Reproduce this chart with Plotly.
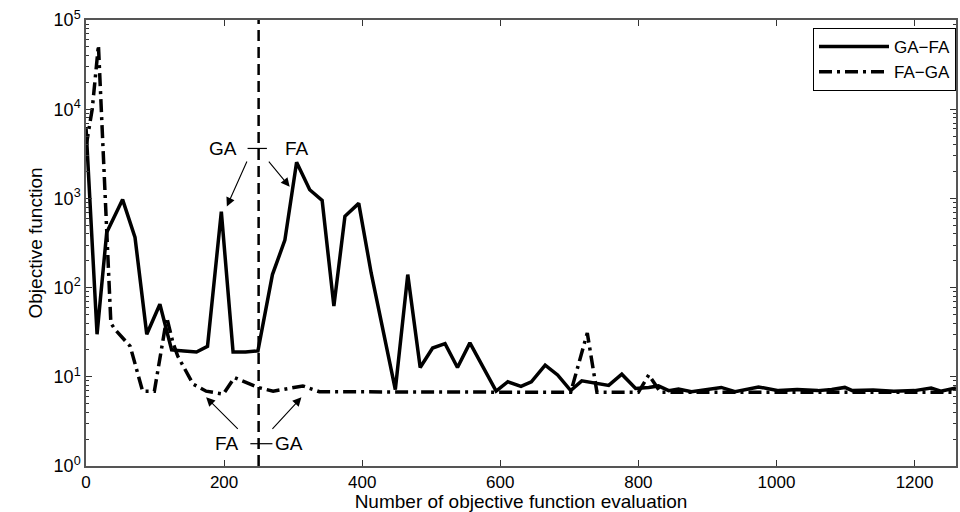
import plotly.graph_objects as go

# ---- data ----
ga_fa_x = [0, 16, 30, 53, 71, 88, 107, 124, 142, 160, 176, 196, 213, 231, 249, 270, 288, 305,
           324, 342, 359, 375, 395, 413, 448, 466, 484, 502, 520, 538, 556, 594, 611, 630, 645,
           665, 683, 702, 718, 738, 757, 776, 796, 815, 829, 844, 858, 877, 901, 920, 940, 959,
           974, 1003, 1030, 1060, 1080, 1099, 1110, 1140, 1170, 1200, 1224, 1238, 1260]
ga_fa_y = [6300, 30, 415, 970, 365, 30, 65, 20, 19.5, 19, 22, 710, 19, 19, 19.5, 140, 340, 2550,
           1250, 950, 62, 630, 880, 146, 7.2, 140, 12.7, 21, 23.5, 12.7, 24, 6.9, 8.8, 7.8, 8.8,
           13.5, 10.5, 7.0, 9.0, 8.5, 8.0, 10.7, 7.4, 7.6, 7.9, 7.0, 7.3, 6.8, 7.3, 7.6, 6.8, 7.2,
           7.7, 7.0, 7.2, 7.0, 7.2, 7.6, 7.0, 7.1, 6.9, 7.0, 7.5, 6.9, 7.5]

fa_ga_x = [0, 9, 18, 36, 42, 64, 82, 99, 117, 126, 133, 155, 174, 199, 215, 249, 271, 314, 338,
           500, 702, 726, 740, 800, 815, 832, 1000, 1260]
fa_ga_y = [3800, 10000, 52000, 40, 34, 22, 6.9, 6.9, 46, 24, 17, 8.3, 6.9, 6.4, 9.8, 7.6, 6.9, 7.9,
           6.8, 6.7, 6.7, 31, 6.7, 6.7, 10.5, 6.7, 6.7, 6.7]

switch_x = 250
x_ticks = [0, 200, 400, 600, 800, 1000, 1200]
y_tickvals = [1, 10, 100, 1000, 10000, 100000]
y_ticktext = ["10<sup>0</sup>", "10<sup>1</sup>", "10<sup>2</sup>", "10<sup>3</sup>",
              "10<sup>4</sup>", "10<sup>5</sup>"]

FONT = "Liberation Sans, Arial, sans-serif"

fig = go.Figure()
fig.add_trace(go.Scatter(x=ga_fa_x, y=ga_fa_y, mode="lines", name="GA\u2212FA",
                         line=dict(color="black", width=3.5)))
fig.add_trace(go.Scatter(x=fa_ga_x, y=fa_ga_y, mode="lines", name="FA\u2212GA",
                         line=dict(color="black", width=3.5, dash="13px,5px,3px,5px")))

# vertical switch line
fig.add_shape(type="line", xref="x", yref="paper", x0=switch_x, x1=switch_x, y0=0, y1=1,
              line=dict(color="black", width=2.5, dash="11px,6px"))

# labels with crossing dashes (shapes take data values on the log axis)
for lx0, lx1, ly in [(234, 262, 3.56), (238, 270, 0.25)]:
    fig.add_shape(type="line", xref="x", yref="y", x0=lx0, x1=lx1, y0=10 ** ly, y1=10 ** ly,
                  line=dict(color="black", width=1.2))

def txt(x, y, s):
    fig.add_annotation(x=x, y=y, xref="x", yref="y", text=s, showarrow=False,
                       font=dict(family=FONT, size=19, color="black"))

txt(198, 3.56, "GA")
txt(305, 3.56, "FA")
txt(204, 0.25, "FA")
txt(294, 0.25, "GA")

def arrow(tx, ty, hx, hy):
    fig.add_annotation(x=hx, y=hy, ax=tx, ay=ty, xref="x", yref="y", axref="x", ayref="y",
                       text="", showarrow=True, arrowhead=2, arrowsize=1.6, arrowwidth=1.1,
                       arrowcolor="black")

arrow(234, 3.43, 204, 2.91)
arrow(263, 3.43, 295, 3.13)
arrow(222, 0.40, 174, 0.77)
arrow(268, 0.40, 312, 0.77)

fig.update_layout(
    width=960, height=512,
    margin=dict(l=86, r=2, t=20, b=45),
    paper_bgcolor="white", plot_bgcolor="white",
    font=dict(family=FONT, size=17, color="black"),
    legend=dict(x=1, y=0.982, xanchor="right", yanchor="top", bgcolor="white",
                bordercolor="black", borderwidth=1, font=dict(family=FONT, size=17),
                itemwidth=70, tracegroupgap=0),
    xaxis=dict(range=[0, 1260], tickvals=x_ticks, ticks="inside", ticklen=6,
               showline=True, linecolor="#555", linewidth=1.5, mirror="ticks",
               showgrid=False, zeroline=False, tickcolor="#333",
               tickfont=dict(size=17),
               title=dict(text="Number of objective function evaluation",
                          font=dict(size=19), standoff=5)),
    yaxis=dict(type="log", range=[0, 5], tickvals=y_tickvals, ticktext=y_ticktext,
               ticks="inside", ticklen=6, showline=True, linecolor="#555", linewidth=1.5,
               mirror="ticks", showgrid=False, zeroline=False, tickcolor="#333",
               tickfont=dict(size=18),
               minor=dict(ticks="inside", ticklen=3.5, dtick="D1", tickcolor="#333",
                          showgrid=False),
               title=dict(text="Objective function", font=dict(size=19), standoff=6)),
)

fig.write_html("out.html")
